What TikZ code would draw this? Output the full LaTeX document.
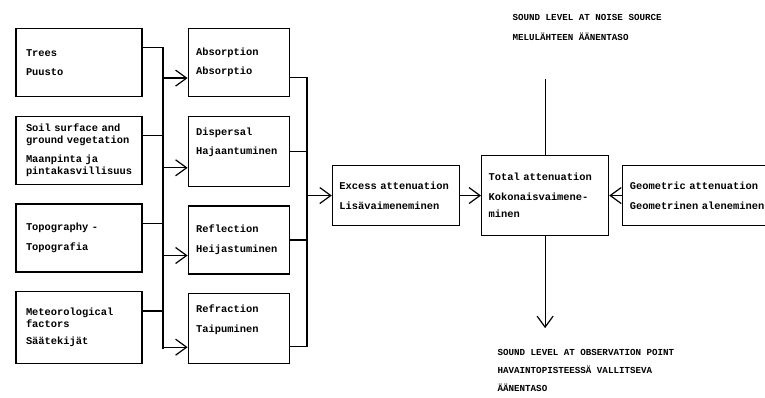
\documentclass[tikz,border=0pt]{standalone}
\usepackage{fontspec}
\setmainfont{Liberation Mono}
\usetikzlibrary{positioning, calc, arrows.meta}
\tikzstyle{factor} = [rectangle, draw=black, align=left, text width=106pt, inner xsep=10pt, minimum height=68pt]
\tikzstyle{effect} = [rectangle, draw=black, align=left, text width=85pt, inner xsep=8pt, minimum height=68pt]
\tikzstyle{sum} = [rectangle, draw=black, align=left, text width=113pt, inner xsep=7pt, minimum height=60pt]
\tikzstyle{heading} = [align=left, inner sep=0pt, font=\fontsize{9.2}{20}\selectfont\bfseries]

\begin{document}
\begin{tikzpicture}[x=1pt, y=-1pt, node distance=18.5pt and 45pt, line width=1.2pt,
  font=\fontsize{10.4}{11.5}\selectfont\bfseries, >={Straight Barb[length=11pt,width=16pt]}]

\useasboundingbox (0,0) rectangle (765,398);

% Factors
\node[factor] (trees) at (79,62.5) {Trees\\[8pt]Puusto};
\node[factor, below=of trees] (soil) {Soil surface and\\ground vegetation\\[8pt]Maanpinta ja\\pintakasvillisuus};
\node[factor, below=of soil] (topo) {Topography -\\[8pt]Topografia};
\node[factor, below=of topo, minimum height=72pt] (meteo) {Meteorological\\factors\\[6pt]Säätekijät};

% Mechanisms
\node[effect, right=of trees] (absorb) {Absorption\\[8pt]Absorptio};
\node[effect, below=of absorb, minimum height=70pt] (disperse) {Dispersal\\[8pt]Hajaantuminen\\[8pt]\mbox{}};
\node[effect, below=of disperse] (reflect) {Reflection\\[8pt]Heijastuminen};
\node[effect, below=of reflect, minimum height=70pt] (refract) {Refraction\\[8pt]Taipuminen\\[8pt]\mbox{}};

% Attenuation
\node[sum, right=42pt of $(disperse.east)!0.5!(reflect.east)$] (excess) {Excess attenuation\\[8pt]Lisävaimeneminen};
\node[sum, right=21pt of excess, minimum height=80pt] (total) {Total attenuation\\[8pt]Kokonaisvaimene-\\[6pt]minen};
\node[sum, right=13pt of total, text width=140pt] (geom) {Geometric attenuation\\[8pt]Geometrinen aleneminen};

% Sound levels
\node[heading, anchor=west] (source) at (512,27) {SOUND LEVEL AT NOISE SOURCE\\MELULÄHTEEN ÄÄNENTASO};
\node[heading, anchor=west, font=\fontsize{9.2}{18}\selectfont\bfseries] (observe) at (497,370) {SOUND LEVEL AT OBSERVATION POINT\\HAVAINTOPISTEESSÄ VALLITSEVA\\ÄÄNENTASO};

% First bus
\coordinate (bus1) at (163,0);
\coordinate (t1) at ([yshift=-20pt]trees.north east);
\coordinate (t2) at ([yshift=-20pt]soil.north east);
\coordinate (t3) at ([yshift=-20pt]topo.north east);
\coordinate (t4) at ([yshift=-20pt]meteo.north east);
\coordinate (a1) at ([yshift=19pt]absorb.south west);
\coordinate (a2) at ([yshift=19pt]disperse.south west);
\coordinate (a3) at ([yshift=19pt]reflect.south west);
\coordinate (a4) at ([yshift=17pt]refract.south west);
\draw (t1) -| ([yshift=-2pt]bus1 |- a4);
\foreach \n in {t2,t3,t4} \draw (\n) -- (bus1 |- \n);
\foreach \n in {a1,a2,a3,a4} \draw[->] (bus1 |- \n) -- (\n);

% Second bus
\coordinate (bus2) at (307,0);
\coordinate (m1) at ([yshift=-15pt]absorb.east);
\coordinate (m2) at (disperse.east);
\coordinate (m3) at (reflect.east);
\coordinate (m4) at ([yshift=-18pt]refract.east);
\draw (m1) -| (bus2 |- m4) -- (m4);
\foreach \n in {m2,m3} \draw (\n) -- (bus2 |- \n);
\draw[->] (bus2 |- excess.west) -- (excess.west);

% Into total
\draw[->] (excess) -- (total);
\draw[->] (geom.west) -- (total.east |- geom.west);
\coordinate (srcend) at ([yshift=76pt]total.north);
\coordinate (obsend) at ([yshift=-92pt]total.south);
\draw (srcend) -- (total.north);
\draw[->] (total.south) -- (obsend);

\end{tikzpicture}
\end{document}
